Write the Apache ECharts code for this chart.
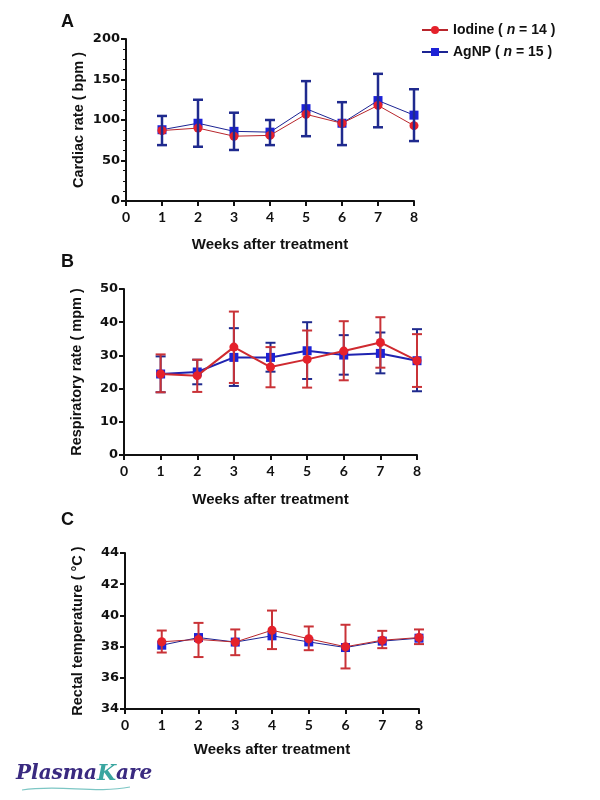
<!DOCTYPE html>
<html><head><meta charset="utf-8">
<script src="https://cdn.jsdelivr.net/npm/echarts@6/dist/echarts.min.js"></script>
<style>html,body{margin:0;padding:0;background:#fff}#c{width:600px;height:800px}</style>
</head><body><div id="c"></div>
<script>
var weeks = [1, 2, 3, 4, 5, 6, 7, 8];
var xTicks = [0, 1, 2, 3, 4, 5, 6, 7, 8];

// Panel A: cardiac rate (bpm)
var hrIodine = [87, 90, 80, 81, 107, 96, 118, 93];
var hrAgNP = [88, 96, 86, 85, 114, 96, 124, 106];
var hrAgNPLow = [69, 67, 63, 69, 80, 69, 91, 74];
var hrAgNPHigh = [105, 125, 109, 100, 148, 122, 157, 138];

// Panel B: respiratory rate (mpm)
var rrIodine = [24.4, 23.9, 32.5, 26.5, 28.8, 31.3, 33.9, 28.4];
var rrAgNP = [24.4, 25.0, 29.4, 29.4, 31.4, 30.1, 30.6, 28.4];
var rrIodineLow = [18.9, 19.0, 21.7, 20.4, 20.3, 22.5, 26.3, 20.5];
var rrIodineHigh = [30.3, 28.7, 43.2, 32.5, 37.5, 40.3, 41.5, 36.4];
var rrAgNPLow = [18.9, 21.3, 20.8, 25.1, 22.9, 24.2, 24.6, 19.2];
var rrAgNPHigh = [29.7, 28.7, 38.2, 33.8, 40.0, 36.1, 36.9, 37.9];

// Panel C: rectal temperature (°C)
var rtIodine = [38.31, 38.46, 38.29, 39.05, 38.50, 37.99, 38.41, 38.58];
var rtAgNP = [38.09, 38.58, 38.29, 38.69, 38.30, 37.94, 38.35, 38.54];
var rtIodineLow = [37.62, 37.33, 37.45, 37.84, 37.77, 36.60, 37.90, 38.16];
var rtIodineHigh = [39.03, 39.52, 39.10, 40.31, 39.29, 39.40, 39.01, 39.10];

var RED = '#e5212b', RED_LINE = '#b8262c', RED_ERR = '#c93237';
var BLUE = '#1d22d6', BLUE_LINE = '#1c2493', BLUE_ERR = '#1f2a8e';

function pairs(ys) { return weeks.map(function (w, i) { return [w, ys[i]]; }); }
function triples(lo, hi) { return weeks.map(function (w, i) { return [w, lo[i], hi[i]]; }); }

function errSeries(idx, lo, hi, color, lw, z) {
  return {
    type: 'custom', xAxisIndex: idx, yAxisIndex: idx, z: z, silent: true,
    encode: { x: 0, y: [1, 2] },
    data: triples(lo, hi),
    renderItem: function (params, api) {
      var x = api.value(0);
      var pH = api.coord([x, api.value(2)]);
      var pL = api.coord([x, api.value(1)]);
      var w = 5;
      var st = { stroke: color, lineWidth: lw };
      return { type: 'group', children: [
        { type: 'line', shape: { x1: pH[0], y1: pH[1], x2: pL[0], y2: pL[1] }, style: st },
        { type: 'line', shape: { x1: pH[0] - w, y1: pH[1], x2: pH[0] + w, y2: pH[1] }, style: st },
        { type: 'line', shape: { x1: pL[0] - w, y1: pL[1], x2: pL[0] + w, y2: pL[1] }, style: st }
      ] };
    }
  };
}

function lineSeries(idx, name, ys, sym, col, lineCol, lw, z) {
  return {
    type: 'line', name: name, xAxisIndex: idx, yAxisIndex: idx, z: z,
    data: pairs(ys), symbol: sym, symbolSize: 9,
    itemStyle: { color: col },
    lineStyle: { color: lineCol, width: lw },
    emphasis: { disabled: true }
  };
}

var grids = [
  { left: 126, right: 186, top: 39, height: 162 },
  { left: 124, right: 183, top: 289, height: 166 },
  { left: 125, right: 181, top: 553, height: 156 }
];

var tickLabel = { color: '#111', fontWeight: 'bold', fontSize: 13, fontFamily: 'DejaVu Sans' };
var axisLine = { show: true, lineStyle: { color: '#111', width: 2 } };
var axisTick = { show: true, length: 5, lineStyle: { color: '#111', width: 2 } };

function xAxis(idx, gap) {
  return {
    type: 'value', gridIndex: idx, min: 0, max: 8, interval: 1,
    axisLine: axisLine, axisTick: axisTick, splitLine: { show: false },
    axisLabel: { color: '#111', fontWeight: 'bold', fontSize: 14, fontFamily: 'Lato', margin: 9 },
    name: 'Weeks after treatment', nameLocation: 'middle', nameGap: gap,
    nameTextStyle: { color: '#111', fontWeight: 'bold', fontSize: 15, fontFamily: 'Liberation Sans' }
  };
}
function yAxis(idx, min, max, interval, name, minor) {
  return {
    type: 'value', gridIndex: idx, min: min, max: max, interval: interval,
    axisLine: axisLine, axisTick: axisTick, splitLine: { show: false },
    minorTick: { show: !!minor, splitNumber: 4, length: 3, lineStyle: { color: '#111', width: 1 } },
    axisLabel: Object.assign({ margin: 6 }, tickLabel),
    name: name, nameLocation: 'middle', nameGap: 40, nameRotate: 90,
    nameTextStyle: { color: '#111', fontWeight: 'bold', fontSize: 14.5, fontFamily: 'Liberation Sans' }
  };
}

var chart = echarts.init(document.getElementById('c'), null, { renderer: 'canvas' });
chart.setOption({
  animation: false,
  backgroundColor: '#fff',
  grid: grids,
  xAxis: [xAxis(0, 36), xAxis(1, 37), xAxis(2, 33)],
  yAxis: [
    yAxis(0, 0, 200, 50, 'Cardiac rate ( bpm )', true),
    yAxis(1, 0, 50, 10, 'Respiratory rate ( mpm )', false),
    yAxis(2, 34, 44, 2, 'Rectal temperature ( °C )', false)
  ],
  legend: {
    orient: 'vertical', left: 416, top: 18, itemGap: 8, itemWidth: 26, itemHeight: 10,
    data: ['Iodine', 'AgNP'],
    formatter: function (name) {
      var n = name === 'Iodine' ? '14' : '15';
      return '{b|' + name + ' ( }{i|n}{b| = ' + n + ' )}';
    },
    textStyle: {
      rich: {
        b: { fontWeight: 'bold', fontSize: 14, color: '#111', fontFamily: 'Liberation Sans' },
        i: { fontWeight: 'bold', fontStyle: 'italic', fontSize: 14, color: '#111', fontFamily: 'Liberation Sans' }
      }
    }
  },
  graphic: [
    { type: 'text', left: 61, top: 13, style: { text: 'A', font: 'bold 18px "Liberation Sans"', fill: '#111' } },
    { type: 'text', left: 61, top: 253, style: { text: 'B', font: 'bold 18px "Liberation Sans"', fill: '#111' } },
    { type: 'text', left: 61, top: 511, style: { text: 'C', font: 'bold 18px "Liberation Sans"', fill: '#111' } },
    { type: 'text', left: 16, top: 763, style: {
        text: '{p|Plasma}{k|K}{p|are}',
        rich: {
          p: { font: 'italic bold 20px "DejaVu Serif"', fill: '#3a2a80' },
          k: { font: 'italic bold 22px "DejaVu Serif"', fill: '#3aa6a0' }
        }
      } },
    { type: 'bezierCurve', shape: { x1: 22, y1: 790, cpx1: 60, cpy1: 784, cpx2: 95, cpy2: 794, x2: 130, y2: 787 },
      style: { stroke: '#7cc6c4', lineWidth: 1.2, fill: null } }
  ],
  series: [
    // Panel A
    lineSeries(0, 'AgNP', hrAgNP, 'rect', BLUE, BLUE_LINE, 1, 2),
    lineSeries(0, 'Iodine', hrIodine, 'circle', RED, RED_LINE, 1, 3),
    errSeries(0, hrAgNPLow, hrAgNPHigh, BLUE_ERR, 2.5, 4),
    // Panel B
    errSeries(1, rrAgNPLow, rrAgNPHigh, BLUE_ERR, 2, 1),
    lineSeries(1, 'AgNP', rrAgNP, 'rect', BLUE, '#1f23b0', 2, 2),
    errSeries(1, rrIodineLow, rrIodineHigh, RED_ERR, 2, 3),
    lineSeries(1, 'Iodine', rrIodine, 'circle', RED, '#cf2a30', 2, 4),
    // Panel C
    lineSeries(2, 'AgNP', rtAgNP, 'rect', BLUE, BLUE_LINE, 1, 2),
    errSeries(2, rtIodineLow, rtIodineHigh, RED_ERR, 2, 3),
    lineSeries(2, 'Iodine', rtIodine, 'circle', RED, RED_LINE, 1, 4)
  ]
});
</script></body></html>
